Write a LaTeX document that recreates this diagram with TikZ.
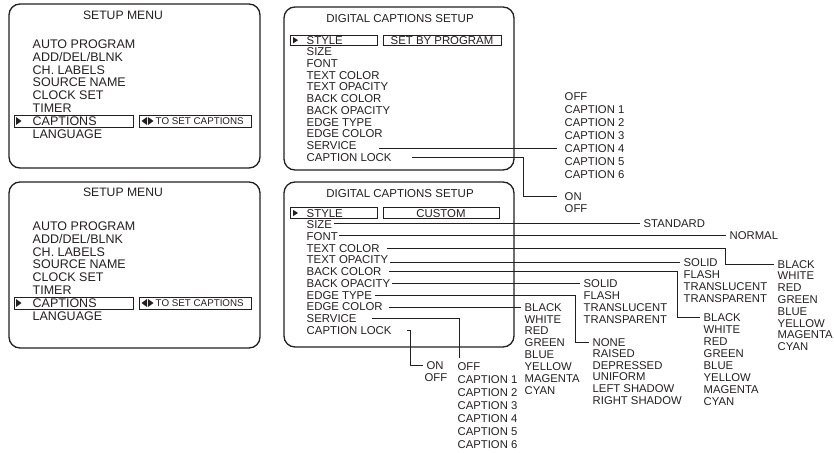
\documentclass[tikz,border=0pt]{standalone}
\usepackage{fontspec}
\setmainfont{Liberation Sans}
\usepackage{xcolor}
\usepackage{tikz}
\definecolor{CCInk}{HTML}{231F20}

\begin{document}
\begin{tikzpicture}[x=1pt,y=-1pt,
  panel/.style={draw=CCInk,line width=1.3pt,rounded corners=11pt},
  selbox/.style={draw=CCInk,line width=0.9pt},
  pick/.style={fill=CCInk},
  head/.style={inner sep=1pt,text=CCInk,text height=8.6pt,text depth=0pt,font=\fontsize{12.2}{13}\selectfont},
  menuitem/.style={anchor=west,inner sep=1.5pt,text=CCInk,text height=9pt,text depth=0pt,font=\fontsize{12.5}{13}\selectfont},
  ccitem/.style={menuitem,text height=8.2pt,font=\fontsize{11.4}{12}\selectfont},
  choice/.style={ccitem,font=\fontsize{11.3}{12}\selectfont},
  hint/.style={menuitem,text height=7pt,font=\fontsize{9.8}{10}\selectfont},
  link/.style={draw=CCInk,line width=0.8pt,shorten >=2pt}]
\path[use as bounding box] (0,0) rectangle (834,452);

% setup menu, top
\draw[panel] (9,4) rectangle (260,168);
\node[head] (smA) at (123,15) {SETUP MENU};
\foreach \t [count=\i] in {AUTO PROGRAM,ADD/DEL/BLNK,CH. LABELS,SOURCE NAME,CLOCK SET,TIMER,CAPTIONS,LANGUAGE}
  \node[menuitem] (smA-\i) at (31,44+12.8*\i-12.8) {\t};
\draw[selbox] (14,115) rectangle (133,127);
\fill[pick] (16,117) -- (21.5,121) -- (16,125) -- cycle;
\draw[selbox] (139,115) rectangle (251,127);
\fill[pick] (147,117) -- (141.5,121) -- (147,125) -- cycle;
\fill[pick] (148,117) -- (153.5,121) -- (148,125) -- cycle;
\node[hint] (tsA) at (154,121) {TO SET CAPTIONS};

% setup menu, bottom
\draw[panel] (9,182) rectangle (260,348);
\node[head] (smB) at (123,192) {SETUP MENU};
\foreach \t [count=\i] in {AUTO PROGRAM,ADD/DEL/BLNK,CH. LABELS,SOURCE NAME,CLOCK SET,TIMER,CAPTIONS,LANGUAGE}
  \node[menuitem] (smB-\i) at (31,226+12.8*\i-12.8) {\t};
\draw[selbox] (14,297) rectangle (133,309);
\fill[pick] (16,299) -- (21.5,303) -- (16,307) -- cycle;
\draw[selbox] (139,297) rectangle (251,309);
\fill[pick] (147,299) -- (141.5,303) -- (147,307) -- cycle;
\fill[pick] (148,299) -- (153.5,303) -- (148,307) -- cycle;
\node[hint] (tsB) at (154,303) {TO SET CAPTIONS};

% digital captions setup, set by program
\draw[panel] (284,7) rectangle (514,170);
\node[head,font=\fontsize{11.5}{12}\selectfont] (dcA) at (400,18) {DIGITAL CAPTIONS SETUP};
\foreach \t [count=\i] in {STYLE,SIZE,FONT,TEXT COLOR,TEXT OPACITY,BACK COLOR,BACK OPACITY,EDGE TYPE,EDGE COLOR,SERVICE,CAPTION LOCK}
  \node[ccitem] (dcA-\i) at (305,40+11.7*\i-11.7) {\t};
\draw[selbox] (290,35) rectangle (377,45.5);
\fill[pick] (293,37) -- (298,40.2) -- (293,43.4) -- cycle;
\draw[selbox] (383,35) rectangle (501,45.5);
\node[ccitem,anchor=center] (sbp) at (442,40.2) {SET BY PROGRAM};

\foreach \t [count=\i from 0] in {OFF,CAPTION 1,CAPTION 2,CAPTION 3,CAPTION 4,CAPTION 5,CAPTION 6}
  \node[choice] (svA-\i) at (563,96+13*\i) {\t};
\node[choice] (lkA-on) at (563,196) {ON};
\node[choice] (lkA-off) at (563,208) {OFF};
\coordinate (lkAbend) at (523,0);
\draw[link,shorten >=6pt] ([xshift=21]dcA-10.east |- svA-4.west) -- (svA-4.west);
\draw[link,shorten >=6pt] ([xshift=19]dcA-11.east) -| (lkAbend |- lkA-on.west) -- (lkA-on.west);

% digital captions setup, custom
\draw[panel] (284,182) rectangle (514,347);
\node[head,font=\fontsize{11.5}{12}\selectfont] (dcB) at (400,193) {DIGITAL CAPTIONS SETUP};
\foreach \t [count=\i] in {STYLE,SIZE,FONT,TEXT COLOR,TEXT OPACITY,BACK COLOR,BACK OPACITY,EDGE TYPE,EDGE COLOR,SERVICE,CAPTION LOCK}
  \node[ccitem] (dcB-\i) at (305,213+11.7*\i-11.7) {\t};
\draw[selbox] (290,207.5) rectangle (377,218.5);
\fill[pick] (293,209.8) -- (298,213) -- (293,216.2) -- cycle;
\draw[selbox] (383,207.5) rectangle (499,218.5);
\node[ccitem,anchor=center] (cst) at (441,213) {CUSTOM};

\node[choice] (std) at (642,223.5) {STANDARD};
\node[choice] (nrm) at (728,235.5) {NORMAL};
\foreach \t [count=\i from 0] in {BLACK,WHITE,RED,GREEN,BLUE,YELLOW,MAGENTA,CYAN}
  \node[choice] (tcl-\i) at (776,264+11.8*\i) {\t};
\foreach \t [count=\i from 0] in {SOLID,FLASH,TRANSLUCENT,TRANSPARENT}
  \node[choice] (tpl-\i) at (682,262+12*\i) {\t};
\foreach \t [count=\i from 0] in {BLACK,WHITE,RED,GREEN,BLUE,YELLOW,MAGENTA,CYAN}
  \node[choice] (bcl-\i) at (702,317+12*\i) {\t};
\foreach \t [count=\i from 0] in {SOLID,FLASH,TRANSLUCENT,TRANSPARENT}
  \node[choice] (bpl-\i) at (582,283.5+12*\i) {\t};
\foreach \t [count=\i from 0] in {NONE,RAISED,DEPRESSED,UNIFORM,LEFT SHADOW,RIGHT SHADOW}
  \node[choice] (etl-\i) at (591,342+11.6*\i) {\t};
\foreach \t [count=\i from 0] in {BLACK,WHITE,RED,GREEN,BLUE,YELLOW,MAGENTA,CYAN}
  \node[choice] (ecl-\i) at (523,307+11.9*\i) {\t};
\foreach \t [count=\i from 0] in {OFF,CAPTION 1,CAPTION 2,CAPTION 3,CAPTION 4,CAPTION 5,CAPTION 6}
  \node[choice] (svB-\i) at (456,366+13*\i) {\t};
\node[choice] (lkB-on) at (425,365.5) {ON};
\node[choice] (lkB-off) at (423,377.5) {OFF};

\coordinate (tcbend) at (725,0);
\coordinate (bcbend) at (677,0);
\coordinate (etbend) at (575,0);
\coordinate (svBend) at (459,360);
\coordinate (lkBbend) at (410,0);
\draw[link] (dcB-2.east |- std.west) -- (std.west);
\draw[link] (dcB-3.east |- nrm.west) -- (nrm.west);
\draw[link] ([xshift=6]dcB-4.east) -| (tcbend |- tcl-0.west) -- (tcl-0.west);
\draw[link] (dcB-5.east |- tpl-0.west) -- (tpl-0.west);
\draw[link] ([xshift=6]dcB-6.east) -| (bcbend |- bcl-0.west) -- (bcl-0.west);
\draw[link] (dcB-7.east |- bpl-0.west) -- (bpl-0.west);
\draw[link] ([xshift=1]dcB-8.east) -| (etbend |- etl-0.west) -- (etl-0.west);
\draw[link] ([xshift=5]dcB-9.east |- ecl-0.west) -- (ecl-0.west);
\draw[link] ([xshift=14]dcB-10.east) -| (svBend);
\draw[link] ([xshift=14]dcB-11.east) -| (lkBbend |- lkB-on.west) -- (lkB-on.west);
\end{tikzpicture}
\end{document}
